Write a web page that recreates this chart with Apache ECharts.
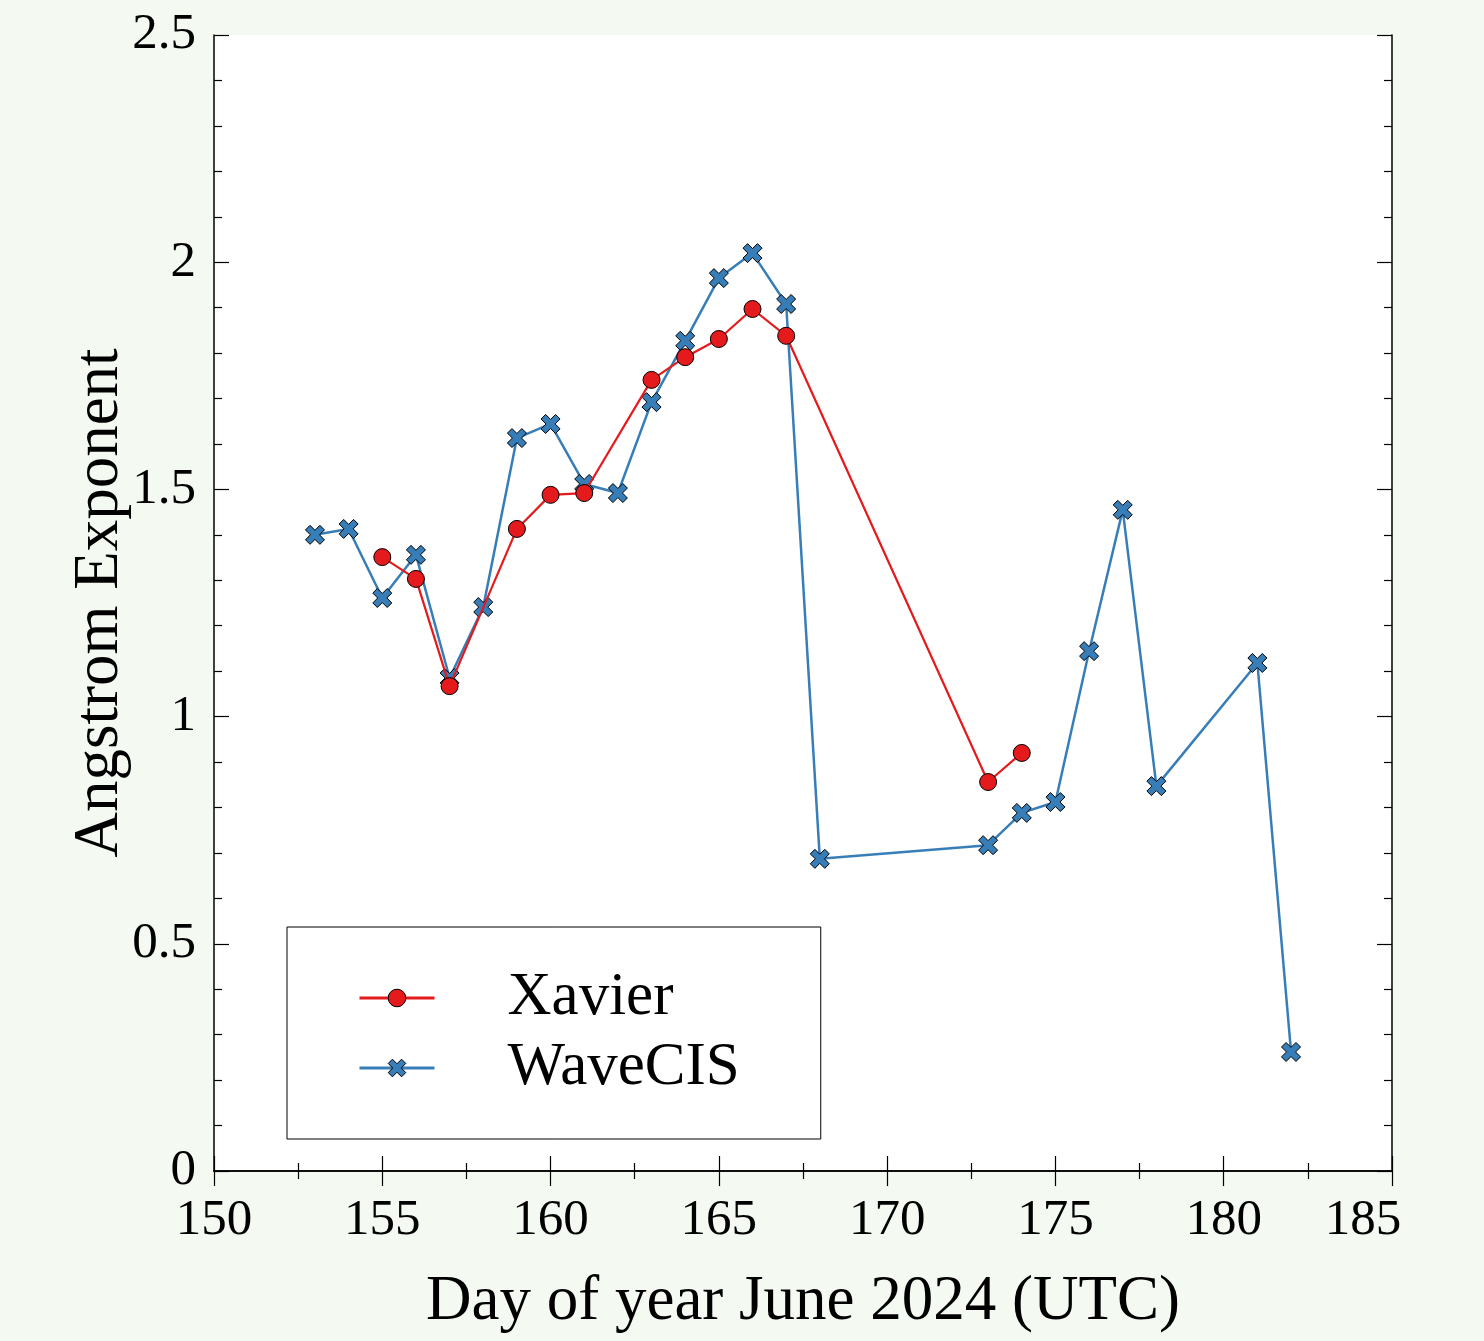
<!DOCTYPE html>
<html>
<head>
<meta charset="utf-8">
<script src="https://cdn.jsdelivr.net/npm/echarts@6/dist/echarts.min.js"></script>
<style>
  html, body { margin: 0; padding: 0; background: #f4f9f2; }
  #chart { width: 1484px; height: 1341px; }
</style>
</head>
<body>
<div id="chart"></div>
<script>
// day of year for each series
const xavierDays = [155, 156, 157, 159, 160, 161, 163, 164, 165, 166, 167, 173, 174];
const xavierValues = [1.351, 1.303, 1.067, 1.413, 1.488, 1.492, 1.741, 1.791, 1.831, 1.897, 1.838, 0.856, 0.920];

const wavecisDays = [153, 154, 155, 156, 157, 158, 159, 160, 161, 162, 163, 164, 165, 166, 167, 168, 173, 174, 175, 176, 177, 178, 181, 182];
const wavecisValues = [1.400, 1.413, 1.261, 1.356, 1.085, 1.241, 1.613, 1.644, 1.512, 1.492, 1.692, 1.827, 1.965, 2.020, 1.908, 0.687, 0.717, 0.788, 0.812, 1.144, 1.455, 0.847, 1.118, 0.262];

const font = "'Liberation Serif', 'Times New Roman', serif";
const crossPath = "path://M24,0 L50,26 L76,0 L100,24 L74,50 L100,76 L76,100 L50,74 L24,100 L0,76 L26,50 L0,24 Z";
const red = "#e41a1c";
const blue = "#377eb8";

const chart = echarts.init(document.getElementById("chart"));

const axisLine = { show: true, lineStyle: { color: "#000", width: 1.5 } };
const tick = { show: true, inside: true, length: 15, lineStyle: { color: "#000", width: 1.2 } };
const minor = { show: true, length: 8, lineStyle: { color: "#000", width: 1.2 } };

chart.setOption({
  backgroundColor: "#f4f9f2",
  animation: false,
  grid: { left: 214, right: 92, top: 35, bottom: 170, show: true, backgroundColor: "#fff", borderWidth: 0 },
  legend: {
    orient: "vertical",
    left: 287,
    top: 927,
    data: [
      { name: "Xavier", itemStyle: { color: red, borderColor: "#000", borderWidth: 1 }, lineStyle: { color: red, width: 3 } },
      { name: "WaveCIS", itemStyle: { color: blue, borderColor: "#000", borderWidth: 1 }, lineStyle: { color: blue, width: 3 } }
    ],
    itemWidth: 75,
    itemHeight: 22,
    itemGap: 0,
    padding: [36, 81, 36, 71],
    borderColor: "#000",
    borderWidth: 1,
    backgroundColor: "#fff",
    textStyle: { fontFamily: font, fontSize: 61, color: "#000", lineHeight: 70, padding: [0, 0, 0, 68] }
  },
  xAxis: [
    {
      type: "value", min: 150, max: 185, interval: 5,
      name: "Day of year June 2024 (UTC)", nameLocation: "middle", nameGap: 100, nameMoveOverlap: false,
      nameTextStyle: { fontFamily: font, fontSize: 63, color: "#000" },
      axisLine, axisTick: tick, minorTick: { ...minor, splitNumber: 2 },
      splitLine: { show: false },
      axisLabel: {
        fontFamily: font, fontSize: 51, color: "#000", margin: 24,
        formatter: (v) => (v === 185 ? "{last|" + v + "}" : String(v)),
        rich: { last: { fontFamily: font, fontSize: 51, color: "#000", padding: [0, 58, 0, 0] } }
      }
    },
    {
      type: "value", position: "top", min: 150, max: 185, interval: 5,
      axisLine, axisTick: tick, minorTick: { ...minor, splitNumber: 2 },
      splitLine: { show: false }, axisLabel: { show: false }
    }
  ],
  yAxis: [
    {
      type: "value", min: 0, max: 2.5, interval: 0.5,
      name: "Angstrom Exponent", nameLocation: "middle", nameGap: 82, nameMoveOverlap: false,
      nameTextStyle: { fontFamily: font, fontSize: 63, color: "#000" },
      axisLine, axisTick: tick, minorTick: { ...minor, splitNumber: 5 },
      splitLine: { show: false },
      axisLabel: { fontFamily: font, fontSize: 51, color: "#000", margin: 18 }
    },
    {
      type: "value", position: "right", min: 0, max: 2.5, interval: 0.5,
      axisLine, axisTick: tick, minorTick: { ...minor, splitNumber: 5 },
      splitLine: { show: false }, axisLabel: { show: false }
    }
  ],
  series: [
    {
      name: "WaveCIS",
      type: "line",
      data: wavecisDays.map((d, i) => [d, wavecisValues[i]]),
      symbol: crossPath,
      symbolSize: 19,
      lineStyle: { color: blue, width: 2.5 },
      itemStyle: { color: blue, borderColor: "#000", borderWidth: 1 },
      z: 3
    },
    {
      name: "Xavier",
      type: "line",
      data: xavierDays.map((d, i) => [d, xavierValues[i]]),
      symbol: "circle",
      symbolSize: 17,
      lineStyle: { color: red, width: 2.2 },
      itemStyle: { color: red, borderColor: "#000", borderWidth: 1 },
      z: 4
    }
  ]
});
</script>
</body>
</html>
